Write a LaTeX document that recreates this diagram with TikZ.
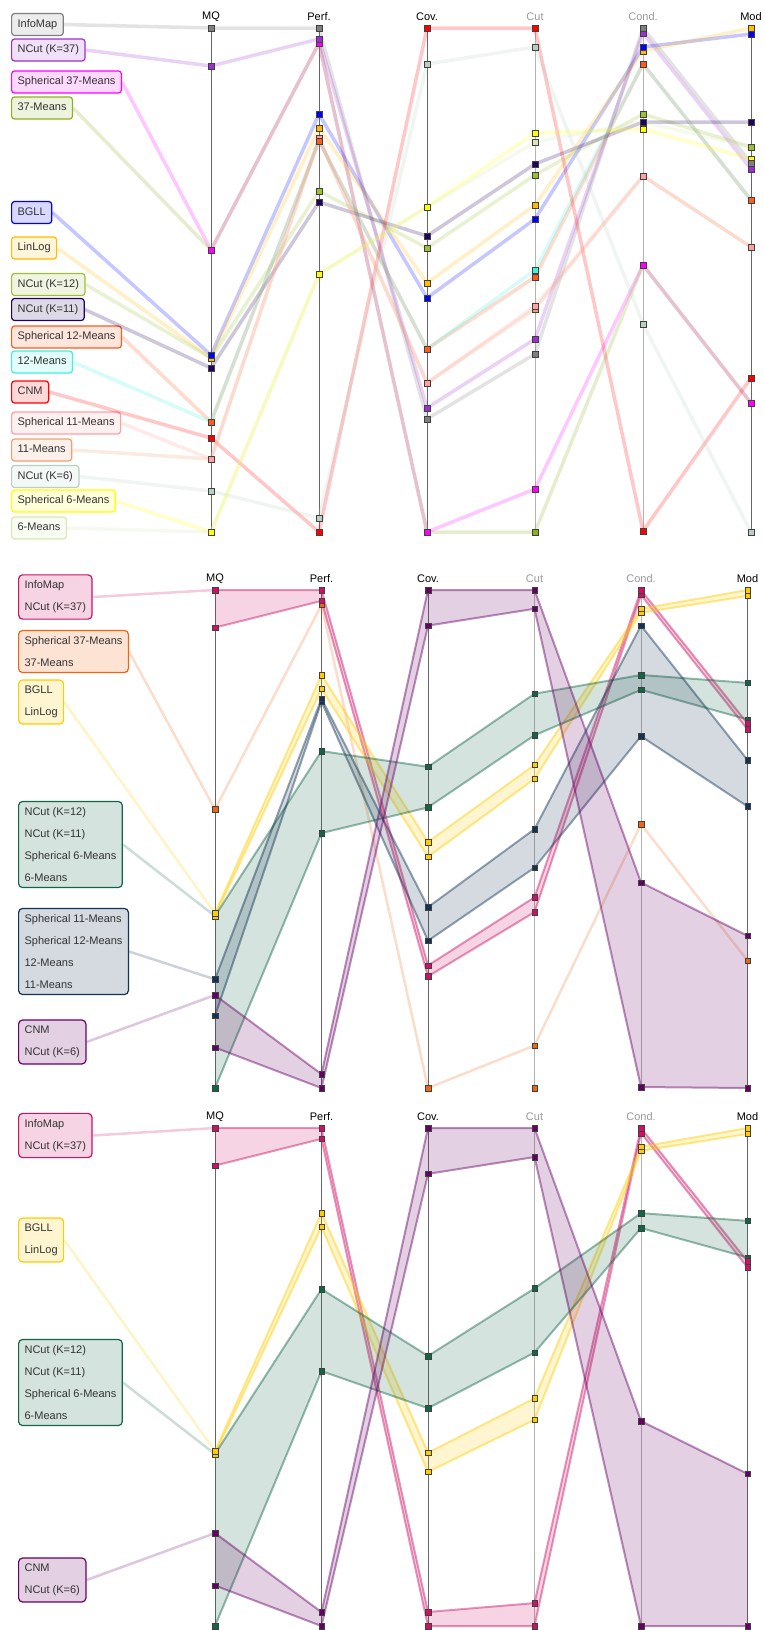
\documentclass[tikz,border=0pt]{standalone}
\usepackage{fontspec}
\setmainfont{Liberation Sans}
\usetikzlibrary{positioning}

\definecolor{cInfo}{HTML}{7F7F7F}
\definecolor{cNcutA}{HTML}{9B30D0}
\definecolor{cSphA}{HTML}{FF00FF}
\definecolor{cKmA}{HTML}{8FAE22}
\definecolor{cBgll}{HTML}{0000FF}
\definecolor{cLinlog}{HTML}{FFBB00}
\definecolor{cNcutB}{HTML}{9CBF38}
\definecolor{cNcutC}{HTML}{200060}
\definecolor{cSphB}{HTML}{FF5A1F}
\definecolor{cKmB}{HTML}{40F0E0}
\definecolor{cCnm}{HTML}{FF0000}
\definecolor{cSphC}{HTML}{FFA0A0}
\definecolor{cKmC}{HTML}{EEA070}
\definecolor{cNcutD}{HTML}{B8D0C0}
\definecolor{cSphD}{HTML}{FFFF00}
\definecolor{cKmD}{HTML}{D8E8B0}
\definecolor{gA}{HTML}{CC1166}
\definecolor{gB}{HTML}{EE6611}
\definecolor{gC}{HTML}{FFCC00}
\definecolor{gD}{HTML}{116644}
\definecolor{gE}{HTML}{113355}
\definecolor{gF}{HTML}{660066}

% MQ, Perf., Cov., Cut, Cond., Mod
\def\dInfo{{28,28,419,354,28,163}}
\def\dNcutA{{66,39,408,339,33,169}}
\def\dSphA{{250,43,532,489,265,403}}
\def\dKmA{{250,43,532,532,265,403}}
\def\dBgll{{355,114,298,219,47,34}}
\def\dLinlog{{358,128,283,205,51,28}}
\def\dNcutB{{358,191,248,175,114,147}}
\def\dNcutC{{368,202,236,164,122,122}}
\def\dSphB{{422,141,349,277,64,200}}
\def\dKmB{{422,141,349,270,64,200}}
\def\dCnm{{438,532,28,28,531,378}}
\def\dSphC{{459,138,383,306,176,247}}
\def\dKmC{{459,138,383,309,176,247}}
\def\dNcutD{{491,518,64,47,324,532}}
\def\dSphD{{532,274,207,133,129,159}}
\def\dKmD{{532,274,207,142,122,147}}

\def\loA{{28,28,408,339,28,163}}
\def\upA{{66,39,419,354,33,169}}
\def\loC{{355,114,283,205,47,28}}
\def\upC{{358,128,298,219,51,34}}
\def\loD{{358,191,207,133,114,122}}
\def\upD{{532,274,248,175,129,159}}
\def\loE{{422,138,349,270,64,200}}
\def\upE{{459,141,383,309,176,247}}
\def\loF{{438,518,28,28,324,378}}
\def\upF{{491,532,64,47,531,532}}
\def\sC{{0.988095,0.988095,1.273657,1.527607,0.990060,0.988095}}

\tikzset{
    every node/.style={font=\fontsize{11}{13}\selectfont},
    axisdark/.style={draw=black!60, line width=.8pt},
    axislight/.style={draw=black!30, line width=.8pt},
    namebox/.style={
        draw=#1,
        fill=#1!15,
        line width=1.2pt,
        rounded corners=3pt,
        anchor=west,
        text=black!80,
        minimum height=22pt,
        inner xsep=6pt,
        text height=8pt,
        text depth=2.5pt
    },
    groupbox/.style={
        draw=#1,
        fill=#1!18,
        line width=1.2pt,
        rounded corners=4pt,
        anchor=west,
        align=left,
        text=black!80,
        inner xsep=6pt,
        inner ysep=6pt,
        font=\fontsize{11}{22}\selectfont
    },
    trace/.style={draw=#1, draw opacity=.22, line width=3.5pt, line join=round},
    feed/.style={draw=#1, draw opacity=.22, line width=2.5pt, line join=round},
    bandedge/.style={draw=#1, draw opacity=.45, line width=2pt, line join=round},
    bandfill/.style={fill=#1, fill opacity=.18},
    mk/.style={draw=black!75, line width=.4pt, fill=#1}
}

\begin{document}
\begin{tikzpicture}[x=1pt, y=-1pt]
\useasboundingbox (0,0) rectangle (763,1630);

% overview
\foreach \lab/\ax/\tx [count=\i from 0] in {MQ/axisdark/black, Perf./axisdark/black, Cov./axisdark/black, Cut/axislight/black!40, Cond./axislight/black!40, Mod/axisdark/black} {
    \draw[\ax] ({211+108*\i},28) -- ({211+108*\i},532);
    \node[text=\tx, inner sep=0pt] (ha\i) at ({211+108*\i},17) {\lab};
}

\foreach \nm/\yy/\col/\txt in {nInfo/24.5/cInfo/InfoMap, nNcutA/50/cNcutA/{NCut (K=37)}, nSphA/82/cSphA/{Spherical 37-Means}, nKmA/108/cKmA/37-Means, nBgll/212.5/cBgll/BGLL, nLinlog/248/cLinlog/LinLog, nNcutB/284.5/cNcutB/{NCut (K=12)}, nNcutC/309.5/cNcutC/{NCut (K=11)}, nSphB/337/cSphB/{Spherical 12-Means}, nKmB/362/cKmB/12-Means, nCnm/392/cCnm/CNM, nSphC/423/cSphC/{Spherical 11-Means}, nKmC/450/cKmC/11-Means, nNcutD/476.5/cNcutD/{NCut (K=6)}, nSphD/501/cSphD/{Spherical 6-Means}, nKmD/528/cKmD/6-Means}
    \node[namebox=\col] (\nm) at (11,\yy) {\txt};

\foreach \nm/\dat/\col in {nInfo/\dInfo/cInfo, nNcutA/\dNcutA/cNcutA, nSphA/\dSphA/cSphA, nKmA/\dKmA/cKmA, nBgll/\dBgll/cBgll, nLinlog/\dLinlog/cLinlog, nNcutB/\dNcutB/cNcutB, nNcutC/\dNcutC/cNcutC, nSphB/\dSphB/cSphB, nKmB/\dKmB/cKmB, nCnm/\dCnm/cCnm, nSphC/\dSphC/cSphC, nKmC/\dKmC/cKmC, nNcutD/\dNcutD/cNcutD, nSphD/\dSphD/cSphD, nKmD/\dKmD/cKmD}
    \draw[trace=\col] (\nm.east) \foreach \i in {0,...,5} { -- ({211+108*\i},{\dat[\i]}) };

\foreach \dat/\col in {\dKmD/cKmD, \dSphD/cSphD, \dNcutD/cNcutD, \dKmC/cKmC, \dSphC/cSphC, \dCnm/cCnm, \dKmB/cKmB, \dSphB/cSphB, \dNcutC/cNcutC, \dNcutB/cNcutB, \dLinlog/cLinlog, \dBgll/cBgll, \dKmA/cKmA, \dSphA/cSphA, \dNcutA/cNcutA, \dInfo/cInfo}
    \foreach \i in {0,...,5}
        \path[mk=\col] ({211+108*\i},{\dat[\i]}) +(-2.75,-2.75) rectangle +(2.75,2.75);

% all groups
\foreach \lab/\ax/\tx [count=\i from 0] in {MQ/axisdark/black, Perf./axisdark/black, Cov./axisdark/black, Cut/axislight/black!40, Cond./axislight/black!40, Mod/axisdark/black} {
    \draw[\ax] ({215+106.5*\i},590) -- ({215+106.5*\i},1088);
    \node[text=\tx, inner sep=0pt] (hb\i) at ({215+106.5*\i},579) {\lab};
}

\node[groupbox=gA] (bA) at (18,597) {InfoMap\\NCut (K=37)};
\node[groupbox=gB] (bB) at (18,651.5) {Spherical 37-Means\\37-Means};
\node[groupbox=gC] (bC) at (18,702) {BGLL\\LinLog};
\node[groupbox=gD] (bD) at (18,844.5) {NCut (K=12)\\NCut (K=11)\\Spherical 6-Means\\6-Means};
\node[groupbox=gE] (bE) at (18,951.5) {Spherical 11-Means\\Spherical 12-Means\\12-Means\\11-Means};
\node[groupbox=gF] (bF) at (18,1042) {CNM\\NCut (K=6)};

\foreach \bx/\lv/\col in {bA/\loA/gA, bB/\dSphA/gB, bC/\loC/gC, bD/\loD/gD, bE/\loE/gE, bF/\loF/gF} {
    \coordinate (q\bx) at (215,{590+(\lv[0]-28)*0.988095});
    \draw[feed=\col] (\bx.east) -- (q\bx);
}
\draw[feed=gB] (qbB) \foreach \i in {1,...,5} { -- ({215+106.5*\i},{590+(\dSphA[\i]-28)*0.988095}) };

\foreach \lv/\uv/\col in {\loA/\upA/gA, \loC/\upC/gC, \loD/\upD/gD, \loE/\upE/gE, \loF/\upF/gF} {
    \fill[bandfill=\col] (215,{590+(\lv[0]-28)*0.988095})
        \foreach \i in {1,...,5} { -- ({215+106.5*\i},{590+(\lv[\i]-28)*0.988095}) }
        \foreach \i in {5,4,...,0} { -- ({215+106.5*\i},{590+(\uv[\i]-28)*0.988095}) } -- cycle;
    \draw[bandedge=\col] (215,{590+(\lv[0]-28)*0.988095})
        \foreach \i in {1,...,5} { -- ({215+106.5*\i},{590+(\lv[\i]-28)*0.988095}) };
    \draw[bandedge=\col] (215,{590+(\uv[0]-28)*0.988095})
        \foreach \i in {1,...,5} { -- ({215+106.5*\i},{590+(\uv[\i]-28)*0.988095}) };
}

\foreach \dat/\col in {\upF/gF, \loF/gF, \upE/gE, \loE/gE, \upD/gD, \loD/gD, \dKmA/gB, \dSphA/gB, \upC/gC, \loC/gC, \upA/gA, \loA/gA}
    \foreach \i in {0,...,5}
        \path[mk=\col] ({215+106.5*\i},{590+(\dat[\i]-28)*0.988095}) +(-2.75,-2.75) rectangle +(2.75,2.75);

% selected groups
\foreach \lab/\ax/\tx [count=\i from 0] in {MQ/axisdark/black, Perf./axisdark/black, Cov./axisdark/black, Cut/axislight/black!40, Cond./axislight/black!40, Mod/axisdark/black} {
    \draw[\ax] ({215+106.5*\i},1128) -- ({215+106.5*\i},1626);
    \node[text=\tx, inner sep=0pt] (hc\i) at ({215+106.5*\i},1117) {\lab};
}

\node[groupbox=gA] (cA) at (18,1135.5) {InfoMap\\NCut (K=37)};
\node[groupbox=gC] (cC) at (18,1240) {BGLL\\LinLog};
\node[groupbox=gD] (cD) at (18,1382.5) {NCut (K=12)\\NCut (K=11)\\Spherical 6-Means\\6-Means};
\node[groupbox=gF] (cF) at (18,1580) {CNM\\NCut (K=6)};

\foreach \bx/\lv/\col in {cA/\loA/gA, cC/\loC/gC, cD/\loD/gD, cF/\loF/gF} {
    \coordinate (q\bx) at (215,{1128+(\lv[0]-28)*\sC[0]});
    \draw[feed=\col] (\bx.east) -- (q\bx);
}

\foreach \lv/\uv/\col in {\loA/\upA/gA, \loC/\upC/gC, \loD/\upD/gD, \loF/\upF/gF} {
    \fill[bandfill=\col] (215,{1128+(\lv[0]-28)*\sC[0]})
        \foreach \i in {1,...,5} { -- ({215+106.5*\i},{1128+(\lv[\i]-28)*\sC[\i]}) }
        \foreach \i in {5,4,...,0} { -- ({215+106.5*\i},{1128+(\uv[\i]-28)*\sC[\i]}) } -- cycle;
    \draw[bandedge=\col] (215,{1128+(\lv[0]-28)*\sC[0]})
        \foreach \i in {1,...,5} { -- ({215+106.5*\i},{1128+(\lv[\i]-28)*\sC[\i]}) };
    \draw[bandedge=\col] (215,{1128+(\uv[0]-28)*\sC[0]})
        \foreach \i in {1,...,5} { -- ({215+106.5*\i},{1128+(\uv[\i]-28)*\sC[\i]}) };
}

\foreach \dat/\col in {\upF/gF, \loF/gF, \upD/gD, \loD/gD, \upC/gC, \loC/gC, \upA/gA, \loA/gA}
    \foreach \i in {0,...,5}
        \path[mk=\col] ({215+106.5*\i},{1128+(\dat[\i]-28)*\sC[\i]}) +(-2.75,-2.75) rectangle +(2.75,2.75);
\end{tikzpicture}
\end{document}
